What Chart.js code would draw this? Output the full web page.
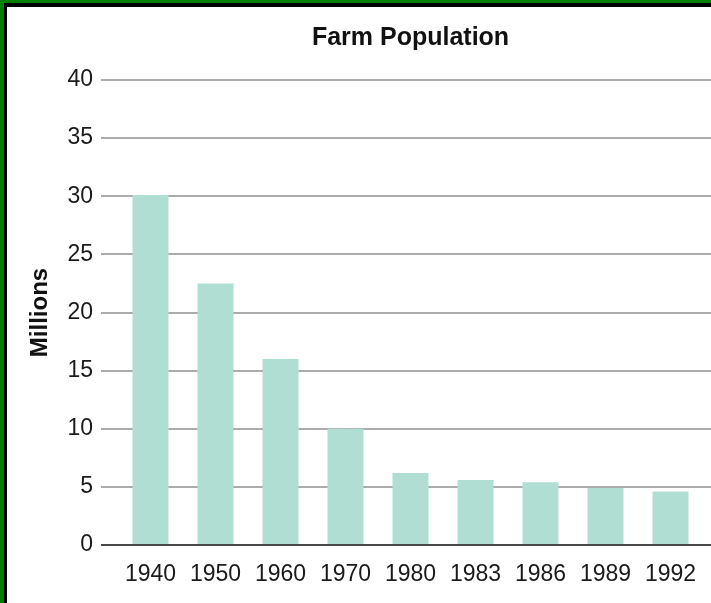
<!DOCTYPE html>
<html>
<head>
<meta charset="utf-8">
<title>Farm Population</title>
<script src="https://cdn.jsdelivr.net/npm/chart.js@4"></script>
<style>
  html, body { margin: 0; padding: 0; background: #fff; }
  #frame { position: absolute; left: 0; top: 0; width: 711px; height: 603px; background: #008000; }
  #frame .inner { position: absolute; left: 4px; top: 3px; right: 0; bottom: 0; background: #000; }
  #frame .paper { position: absolute; left: 7px; top: 7px; right: 0; bottom: 0; background: #fff; }
  #chart { position: absolute; left: 0; top: 0; }
</style>
</head>
<body>
<div id="frame"><div class="inner"></div><div class="paper"></div></div>
<canvas id="chart" width="711" height="603"></canvas>
<script>
// Census years on the category axis
const years = ['1940', '1950', '1960', '1970', '1980', '1983', '1986', '1989', '1992'];
// U.S. farm population, millions of people
const farmPopulation = [30.1, 22.5, 16.0, 10.0, 6.2, 5.6, 5.4, 4.9, 4.6];
// Value axis range and tick step
const yAxisMin = 0;
const yAxisMax = 40;
const yAxisStep = 5;

const TEXT = '#1a1a1a';
const FONT = '"Liberation Sans", Arial, Helvetica, sans-serif';
Chart.defaults.font.family = FONT;
Chart.defaults.color = TEXT;

// light gray rules, darker rule at zero
const gridColor = (ctx) => (ctx.tick && ctx.tick.value === 0) ? '#4a4a4a' : '#ababab';

new Chart(document.getElementById('chart'), {
  type: 'bar',
  data: {
    labels: years,
    datasets: [{
      label: 'Farm Population',
      data: farmPopulation,
      backgroundColor: '#b1ded3',
      borderWidth: 0,
      categoryPercentage: 1,
      barPercentage: 36 / 65
    }]
  },
  options: {
    responsive: false,
    animation: false,
    devicePixelRatio: 1,
    layout: { padding: 0 },
    plugins: {
      legend: { display: false },
      tooltip: { enabled: false },
      title: {
        display: true,
        text: 'Farm Population',
        fullSize: false,
        color: '#111',
        font: { size: 25, weight: 'bold', lineHeight: 1.2 },
        padding: { top: 22.7, bottom: 27.3 }
      }
    },
    scales: {
      x: {
        grid: { display: false },
        border: { display: false },
        ticks: { color: TEXT, font: { size: 23 }, padding: 8.2, maxRotation: 0, autoSkip: false },
        afterFit(scale) { scale.height = 58; }
      },
      y: {
        position: 'left',
        min: yAxisMin,
        max: yAxisMax,
        ticks: { stepSize: yAxisStep, padding: 8, color: TEXT, font: { size: 23 } },
        grid: { color: gridColor, lineWidth: 2, tickLength: 17 },
        border: { display: false },
        title: {
          display: true,
          text: 'Millions',
          color: '#111',
          font: { size: 24, weight: 'bold', lineHeight: 1.2 },
          padding: { top: 25.6, bottom: 0 }
        },
        afterFit(scale) { scale.width = 118; }
      },
      yRight: {
        position: 'right',
        min: yAxisMin,
        max: yAxisMax,
        ticks: { stepSize: yAxisStep, display: false },
        grid: { color: gridColor, lineWidth: 2, tickLength: 8, drawOnChartArea: false },
        border: { display: false },
        afterFit(scale) { scale.width = 8; }
      }
    }
  }
});
</script>
</body>
</html>
